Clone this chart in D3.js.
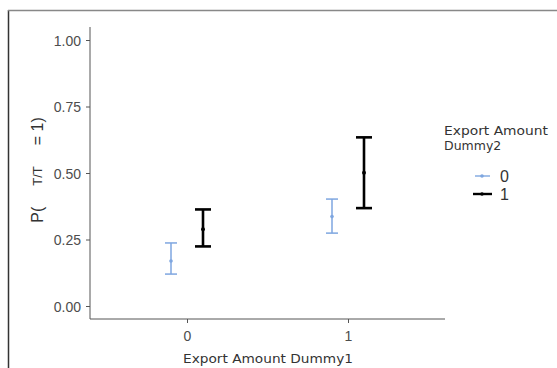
<!DOCTYPE html>
<html><head><meta charset="utf-8">
<script src="https://cdn.jsdelivr.net/npm/d3@7"></script>
<style>
body{margin:0;background:#fff}svg{display:block}
.sans{font-family:'Liberation Sans',Arial,Helvetica,sans-serif}
.kr{font-family:'DejaVu Sans','Noto Sans',sans-serif}
</style>
</head><body>
<svg id="c" width="557" height="368"></svg>
<script>
const categories = ["0", "1"];
const groups = ["0", "1"];
const yTicks = [0, 0.25, 0.5, 0.75, 1.0];
const est   = { "0": [0.169, 0.336], "1": [0.289, 0.501] };
const lower = { "0": [0.120, 0.274], "1": [0.224, 0.368] };
const upper = { "0": [0.237, 0.402], "1": [0.363, 0.634] };
const colors = { "0": "#7ea6e0", "1": "#000000" };

const svg = d3.select("#c");
// frame
svg.append("line").attr("x1",8.5).attr("x2",8.5).attr("y1",10).attr("y2",368).attr("stroke","#333").attr("stroke-width",1.5);
svg.append("line").attr("x1",8).attr("x2",557).attr("y1",10.5).attr("y2",10.5).attr("stroke","#888").attr("stroke-width",1.5);

const x = d3.scalePoint().domain(categories).range([187, 348]);
const y = d3.scaleLinear().domain([0,1]).range([306, 40]);
const dodge = d3.scaleOrdinal().domain(groups).range([-16, 16]);

const axisColor = "#555";
const ya = svg.append("g").attr("transform","translate(90,0)")
  .call(d3.axisLeft(y).tickValues(yTicks).tickFormat(d3.format(".2f")).tickSize(4).tickSizeOuter(0));
ya.select(".domain").attr("d","M0,27V319");
const xa = svg.append("g").attr("transform","translate(0,319)")
  .call(d3.axisBottom(x).tickSize(4).tickSizeOuter(0));
xa.select(".domain").attr("d","M90,0H445");
[ya, xa].forEach(a => {
  a.attr("font-family", null).attr("font-size", null).attr("class","sans");
  a.select(".domain").attr("stroke", axisColor).attr("stroke-width", 1);
  a.selectAll(".tick line").attr("stroke", axisColor);
  a.selectAll(".tick text").attr("fill","#4d4d4d").style("font-size","14px");
});
ya.selectAll(".tick text").attr("x",-9).attr("dy","0.36em");
xa.selectAll(".tick text").attr("y",11).attr("dy","0.75em");

// error bars
groups.forEach(g => {
  const sw = g === "1" ? 2.6 : 1.5;
  const cap = g === "1" ? 8 : 6;
  const gg = svg.append("g");
  categories.forEach((c, i) => {
    const cx = x(c) + dodge(g);
    gg.append("line").attr("x1",cx).attr("x2",cx).attr("y1",y(lower[g][i])).attr("y2",y(upper[g][i]))
      .attr("stroke",colors[g]).attr("stroke-width",sw);
    [lower[g][i], upper[g][i]].forEach(v => {
      gg.append("line").attr("x1",cx-cap).attr("x2",cx+cap).attr("y1",y(v)).attr("y2",y(v))
        .attr("stroke",colors[g]).attr("stroke-width",sw);
    });
    gg.append("circle").attr("cx",cx).attr("cy",y(est[g][i])).attr("r", g==="1"?2:1.8).attr("fill",colors[g]);
  });
});

// x axis title
svg.append("text").attr("class","kr").attr("x",268).attr("y",363).attr("text-anchor","middle")
  .attr("textLength",170).attr("lengthAdjust","spacingAndGlyphs")
  .style("font-size","12.5px").attr("fill","#333")
  .text("Export Amount Dummy1");

// y axis title
const yt = svg.append("text").attr("class","sans").attr("transform","translate(43,170) rotate(-90)").attr("text-anchor","middle")
  .style("font-size","16px").attr("fill","#333");
yt.append("tspan").text("P(");
yt.append("tspan").attr("dx",21).attr("dy",-1).style("font-size","13px").text("T/T");
yt.append("tspan").attr("dx",21).attr("dy",1).text("= 1)");

// legend
const lg = svg.append("g");
lg.append("text").attr("class","kr").attr("x",444).attr("y",135).attr("textLength",104).attr("lengthAdjust","spacingAndGlyphs")
  .style("font-size","12.5px").attr("fill","#333").text("Export Amount");
lg.append("text").attr("class","kr").attr("x",444).attr("y",150)
  .style("font-size","12.5px").attr("fill","#333").text("Dummy2");
groups.forEach((g, i) => {
  const ky = 176 + i*18;
  lg.append("line").attr("x1",g==="1"?473:475).attr("x2",g==="1"?492:490).attr("y1",ky).attr("y2",ky)
    .attr("stroke",colors[g]).attr("stroke-width", g==="1"?2.4:1.4);
  lg.append("circle").attr("cx",482).attr("cy",ky).attr("r",1.8).attr("fill",colors[g]);
  lg.append("text").attr("class","sans").attr("x",500).attr("y",ky+6)
    .style("font-size","16px").attr("fill","#333").text(g);
});
</script>
</body></html>
